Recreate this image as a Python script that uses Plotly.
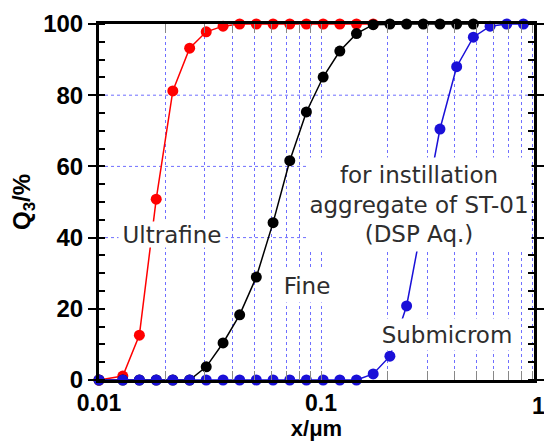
import plotly.graph_objects as go

# ---- data ----
sizes_um = [0.0100, 0.0128, 0.0152, 0.0181, 0.0215, 0.0256, 0.0304, 0.0362, 0.0430,
            0.0511, 0.0608, 0.0723, 0.0859, 0.1022, 0.1215, 0.1444, 0.1717, 0.2042,
            0.2428, 0.2887, 0.3432, 0.4081, 0.4852, 0.5769, 0.6860, 0.8156, 0.9698]

ultrafine_x = sizes_um[:17]
ultrafine_q3 = [0, 1.1, 12.6, 50.8, 81.2, 93.2, 97.8, 99.4, 100, 100, 100, 100, 100, 100, 100, 100, 100]

fine_x = sizes_um[:23]
fine_q3 = [0, 0, 0, 0, 0, 0, 3.7, 10.4, 18.3, 28.9, 44.2, 61.6, 75.3, 85.1, 92.4, 97.3,
           99.8, 100, 100, 100, 100, 100, 100]

submicron_x = sizes_um
submicron_q3 = [0, 0, 0, 0, 0, 0, 0, 0, 0, 0, 0, 0, 0, 0, 0, 0, 1.7, 6.7, 20.8, 46.0,
                70.5, 88.0, 96.3, 99.4, 100, 100, 100]

x_tickvals = [0.01, 0.1]
x_ticktext = ["0.01", "0.1"]
y_tickvals = [0, 20, 40, 60, 80, 100]
hgrid_vals = [40, 60, 80]

GRID = "#6f6fff"
TXT = "#2e2e2e"

fig = go.Figure()
for xs, ys, col in [(ultrafine_x, ultrafine_q3, "#ff0000"),
                    (fine_x, fine_q3, "#000000"),
                    (submicron_x, submicron_q3, "#1a10d8")]:
    fig.add_trace(go.Scatter(x=xs, y=ys, mode="lines+markers",
                             line=dict(color=col, width=1.5),
                             marker=dict(color=col, size=11),
                             cliponaxis=False, showlegend=False))

for v in hgrid_vals:
    fig.add_shape(type="line", xref="paper", x0=0, x1=1, yref="y", y0=v, y1=v,
                  line=dict(color=GRID, width=1, dash="dot"), layer="below")

# plot area in pixels: x 99..534, y 24..380
L, R, T, B = 99, 534, 24, 380
def px(xp):
    return (xp - L) / (R - L)
def py(yp):
    return (B - yp) / (B - T)

lab_font = dict(family="DejaVu Sans", size=23, color=TXT)
def label(text, cx, cy, w, h):
    fig.add_annotation(text=text, xref="paper", yref="paper", x=px(cx), y=py(cy),
                       xanchor="center", yanchor="middle", showarrow=False,
                       width=w, height=h, bgcolor="white", borderpad=0,
                       font=lab_font, align="center")

label("Ultrafine", 172, 234, 106, 25)
label("Fine", 307, 286, 56, 32)
label("Submicrom", 447, 334, 146, 31)
label("for instillation<br>aggregate of ST-01<br>(DSP Aq.)", 418.5, 204, 224, 93)

tick_font = dict(family="Liberation Sans", size=24, color="black", weight="bold")
xtick_font = dict(family="Liberation Sans", size=23, color="black", weight="bold")
fig.add_annotation(text="1", xref="paper", yref="paper", x=px(538), y=0,
                   xanchor="center", yanchor="top", yshift=-11, showarrow=False,
                   font=xtick_font)

fig.update_xaxes(type="log", range=[-2, -0.041], automargin=False,
                 tickvals=x_tickvals, ticktext=x_ticktext, tickfont=xtick_font,
                 ticks="inside", ticklen=9, tickcolor="#888888", tickwidth=1,
                 showline=True, linecolor="black", linewidth=3, mirror="allticks",
                 showgrid=True, gridcolor=GRID, griddash="dot", gridwidth=1,
                 minor=dict(dtick="D1", ticks="inside", ticklen=9, tickcolor="#888888",
                            showgrid=True, gridcolor=GRID, griddash="dot", gridwidth=1),
                 title=dict(text="x/μm", font=dict(family="Liberation Sans", size=22,
                                                    color="black", weight="bold"),
                            standoff=6),
                 zeroline=False)
fig.update_yaxes(range=[0, 100], tickvals=y_tickvals, tickfont=tick_font, automargin=False,
                 ticks="outside", ticklen=8, tickcolor="black", tickwidth=2,
                 showline=True, linecolor="black", linewidth=3, mirror="allticks",
                 showgrid=False, zeroline=False,
                 minor=dict(dtick=5, ticks="inside", ticklen=6, tickcolor="black", tickwidth=1.5),
                 title=dict(text="Q<sub>3</sub>/%", font=dict(family="Liberation Sans", size=24,
                                                               color="black", weight="bold"),
                            standoff=6))

fig.update_layout(width=544, height=441, margin=dict(l=L, r=544 - R, t=T, b=441 - B),
                  paper_bgcolor="white", plot_bgcolor="white")

fig.write_html("out.html", config={"displayModeBar": False},
               post_script="document.body.style.margin='0';document.body.style.overflow='hidden';")
